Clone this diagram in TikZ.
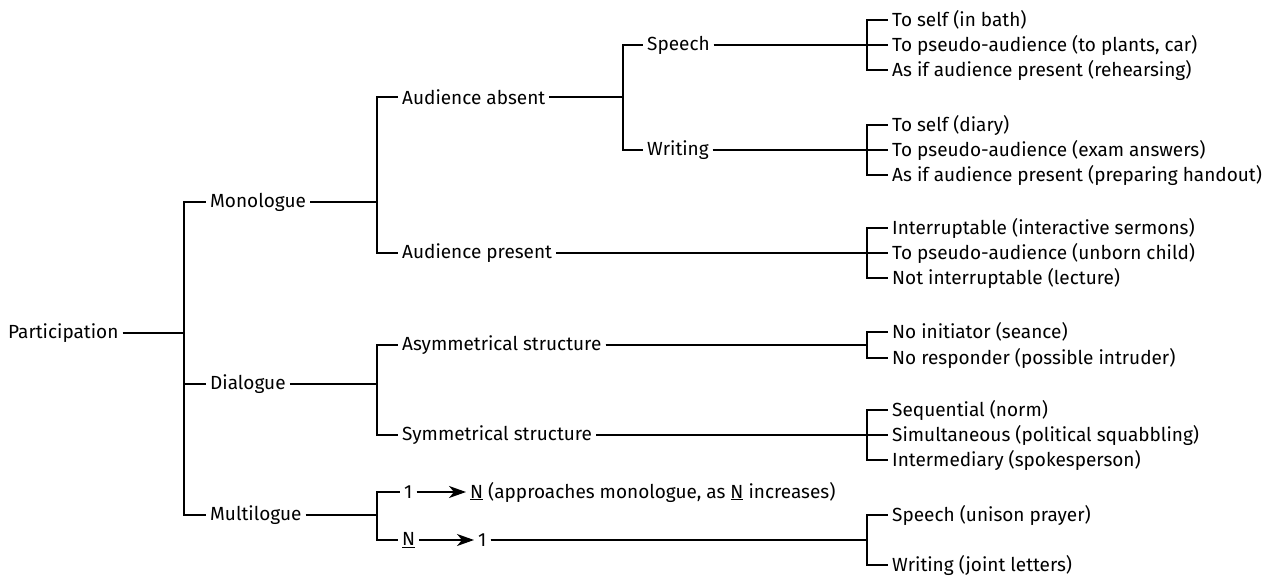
\documentclass[tikz,border=0pt]{standalone}
\usepackage{fontspec}
\setmainfont{Fira Sans}
\usetikzlibrary{arrows.meta}

\begin{document}
\begin{tikzpicture}[x=1pt, y=-1pt,
	every node/.style={font=\fontsize{19}{22}\selectfont, anchor=west, inner sep=4pt},
	branch/.style={line width=1.5pt},
	pointer/.style={line width=1.5pt, -{Stealth[length=17pt, width=12pt, inset=5pt]}}]

\useasboundingbox (0,0) rectangle (1287,577);

\node (part) at (4,333) {Participation};
\node (mono) at (206,202) {Monologue};
\node (dia) at (206,384) {Dialogue};
\node (multi) at (206,515) {Multilogue};

\node (absent) at (398,97) {Audience absent};
\node (present) at (398,253) {Audience present};
\node (asym) at (398,345) {Asymmetrical structure};
\node (sym) at (398,435) {Symmetrical structure};
\node (one) at (400,492) {1};
\node (many) at (466,492) {\underline{N} (approaches monologue, as \underline{N} increases)};
\node (many2) at (398,540) {\underline{N}};
\node (one2) at (474,540) {1};

\node (speech) at (643,45) {Speech};
\node (writing) at (643,150) {Writing};

\coordinate (jpart) at (184,333);
\coordinate (jmono) at (377,202);
\coordinate (jdia) at (377,384);
\coordinate (jmulti) at (377,515);
\coordinate (jabs) at (623,97);

\draw[branch] (part.east) -- (jpart);
\foreach \c in {mono,dia,multi}{
	\draw[branch] (jpart) |- (\c.west);
}

\draw[branch] (mono.east) -- (jmono);
\draw[branch] (jmono) |- (absent.west);
\draw[branch] (jmono) |- (present.west);
\draw[branch] (dia.east) -- (jdia);
\draw[branch] (jdia) |- (asym.west);
\draw[branch] (jdia) |- (sym.west);
\draw[branch] (multi.east) -- (jmulti);
\draw[branch] (jmulti) |- (one.west);
\draw[branch] (jmulti) |- (many2.west);
\draw[pointer] (one) -- (many);
\draw[pointer] (many2) -- (one2);

\draw[branch] (absent.east) -- (jabs);
\draw[branch] (jabs) |- (speech.west);
\draw[branch] (jabs) |- (writing.west);

\foreach[count=\i] \y/\t in {20/To self (in bath), 45/{To pseudo-audience (to plants, car)}, 70/As if audience present (rehearsing)}{
	\node (sp\i) at (888,\y) {\t};
	\draw[branch] (speech.east) -| (867,45) |- (sp\i.west);
}
\foreach[count=\i] \y/\t in {125/To self (diary), 150/To pseudo-audience (exam answers), 175/As if audience present (preparing handout)}{
	\node (wr\i) at (888,\y) {\t};
	\draw[branch] (writing.east) -| (867,150) |- (wr\i.west);
}
\foreach[count=\i] \y/\t in {228/Interruptable (interactive sermons), 253/To pseudo-audience (unborn child), 278/Not interruptable (lecture)}{
	\node (pr\i) at (888,\y) {\t};
	\draw[branch] (present.east) -| (867,253) |- (pr\i.west);
}
\foreach[count=\i] \y/\t in {332/No initiator (seance), 358/No responder (possible intruder)}{
	\node (as\i) at (888,\y) {\t};
	\draw[branch] (asym.east) -| (867,345) |- (as\i.west);
}
\foreach[count=\i] \y/\t in {410/Sequential (norm), 435/Simultaneous (political squabbling), 460/Intermediary (spokesperson)}{
	\node (sy\i) at (888,\y) {\t};
	\draw[branch] (sym.east) -| (867,435) |- (sy\i.west);
}
\foreach[count=\i] \y/\t in {515/Speech (unison prayer), 565/Writing (joint letters)}{
	\node (mu\i) at (888,\y) {\t};
	\draw[branch] (one2.east) -| (867,540) |- (mu\i.west);
}

\end{tikzpicture}
\end{document}
